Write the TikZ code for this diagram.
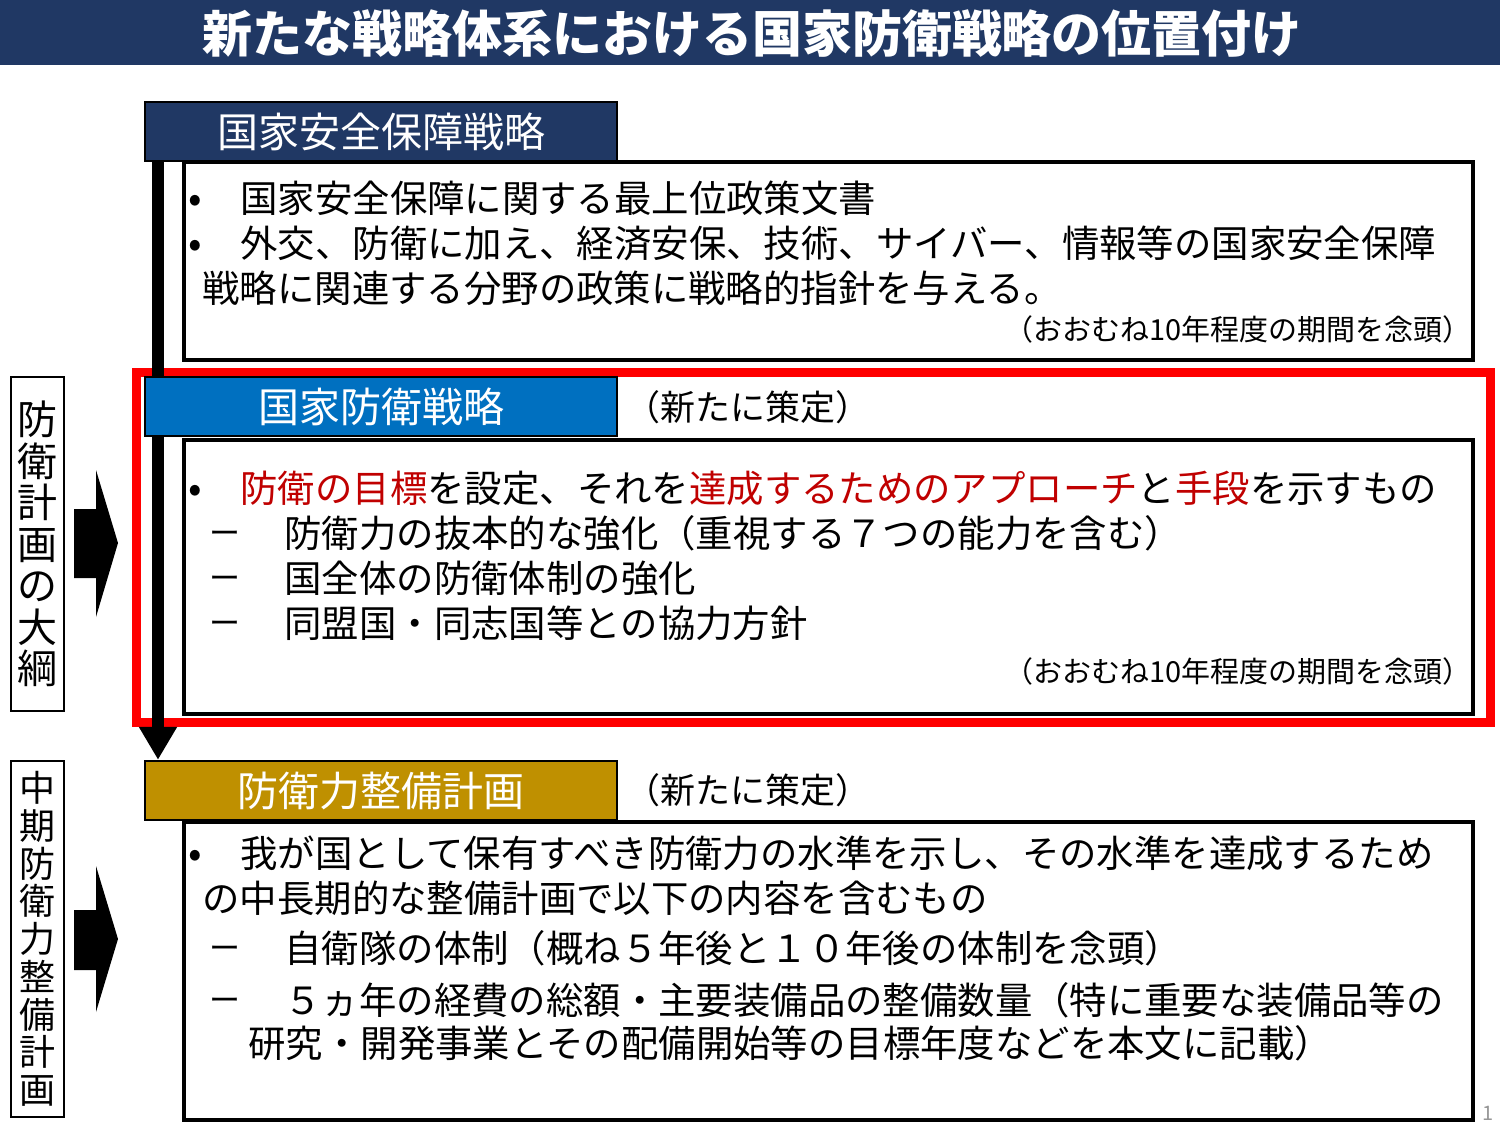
\documentclass[tikz,border=0pt]{standalone}
\usepackage{fontspec}
\setmainfont{Noto Sans CJK JP}
\usetikzlibrary{arrows.meta}
\definecolor{navy}{RGB}{32,56,100}
\definecolor{hblue}{RGB}{0,112,192}
\definecolor{hgold}{RGB}{191,144,0}
\definecolor{redtxt}{RGB}{192,0,0}
\definecolor{pgnum}{RGB}{150,150,150}
\pgfdeclarelayer{front}
\pgfsetlayers{main,front}
\begin{document}
\begin{tikzpicture}[x=0.5pt,y=-0.5pt,
  hdr/.style={draw=black, line width=1.2pt, text=white, minimum width=236pt, minimum height=29.5pt, inner sep=0, font=\fontsize{20.5}{22}\selectfont},
  cbox/.style={draw=black, line width=2pt, fill=white, anchor=north west, inner sep=0, minimum width=644.5pt},
  lbox/.style={draw=black, line width=1pt, minimum width=26.5pt, inner sep=0, align=center},
  body/.style={anchor=west, inner sep=0, font=\fontsize{18.7}{20}\selectfont, text height=0.88em, text depth=0.12em},
  side/.style={anchor=west, inner sep=0, font=\fontsize{17.5}{19}\selectfont, text height=0.88em, text depth=0.12em},
  note/.style={anchor=east, inner sep=0, font=\fontsize{14.5}{16}\selectfont, text height=0.88em, text depth=0.12em},
  bul/.style={inner sep=0, font=\fontsize{20}{22}\selectfont},
  dashmark/.style={inner sep=0, font=\fontsize{15.5}{17}\selectfont},
  bigarrow/.style={fill=black}
]
\useasboundingbox (0,0) rectangle (1500,1125);

% title bar
\fill[navy] (0,0) rectangle (1500,65);
\node[text=white, inner sep=0, font=\fontsize{25}{27}\bfseries\selectfont] (title) at (752,34) {新たな戦略体系における国家防衛戦略の位置付け};

% content boxes
\node[cbox, minimum height=99pt] (c1) at (182,160) {};
\node[cbox, minimum height=137pt] (c2) at (182,438) {};
\node[cbox, minimum height=149pt] (c3) at (182,820) {};

% red frame
\node[draw=red, line width=4.5pt, anchor=north west, minimum width=677pt, minimum height=175pt, inner sep=0] (rf) at (132,368) {};

% headers (front layer)
\begin{pgfonlayer}{front}
\node[hdr, fill=navy] (h1) at (381,131.5) {\raisebox{-1pt}{国家安全保障戦略}};
\node[hdr, fill=hblue] (h2) at (381,406.5) {\raisebox{-1pt}{国家防衛戦略}};
\node[hdr, fill=hgold] (h3) at (381,790.5) {\raisebox{-1pt}{防衛力整備計画}};
\end{pgfonlayer}

% spine arrow
\coordinate (sx) at (158,0);
\draw[line width=6pt, -{Triangle[width=18pt,length=16.5pt]}] (h1.south -| sx) -- (h3.north -| sx);

% side notes
\node[side] (s2) at (625,413) {（新たに策定）};
\node[side] (s3) at (625,796) {（新たに策定）};

% left labels
\node[lbox, minimum height=167pt, font=\fontsize{20}{20.75}\selectfont] (la) at (37.5,544) {防\\衛\\計\\画\\の\\大\\綱};
\node[lbox, minimum height=178pt, font=\fontsize{18}{18.85}\selectfont] (lb) at (37.5,939) {中\\期\\防\\衛\\力\\整\\備\\計\\画};

% big right arrows
\fill[bigarrow] (74,509) -- (96,509) -- (96,470) -- (118,543) -- (96,617) -- (96,578) -- (74,578) -- cycle;
\fill[bigarrow] (74,910) -- (96,910) -- (96,866) -- (118,939) -- (96,1012) -- (96,970) -- (74,970) -- cycle;

% box 1 text
\node[bul] (b11) at (195,204) {•};
\node[bul] (b12) at (195,249) {•};
\node[body] (t11) at (240,205) {国家安全保障に関する最上位政策文書};
\node[body] (t12) at (240,250) {外交、防衛に加え、経済安保、技術、サイバー、情報等の国家安全保障};
\node[body] (t13) at (202,295) {戦略に関連する分野の政策に戦略的指針を与える。};
\node[note] (n1) at (1472,333) {（おおむね10年程度の期間を念頭）};

% box 2 text
\node[bul] (b21) at (195,494) {•};
\node[body] (t21) at (240,495) {\textcolor{redtxt}{防衛の目標}を設定、それを\textcolor{redtxt}{達成するためのアプローチ}と\textcolor{redtxt}{手段}を示すもの};
\node[dashmark] (d22) at (225,538) {ー};
\node[dashmark] (d23) at (225,583) {ー};
\node[dashmark] (d24) at (225,628) {ー};
\node[body] (t22) at (284,540) {防衛力の抜本的な強化（重視する７つの能力を含む）};
\node[body] (t23) at (284,585) {国全体の防衛体制の強化};
\node[body] (t24) at (284,630) {同盟国・同志国等との協力方針};
\node[note] (n2) at (1472,675) {（おおむね10年程度の期間を念頭）};

% box 3 text
\node[bul] (b31) at (195,859) {•};
\node[body] (t31) at (240,860) {我が国として保有すべき防衛力の水準を示し、その水準を達成するため};
\node[body] (t32) at (202,905) {の中長期的な整備計画で以下の内容を含むもの};
\node[dashmark] (d33) at (225,953) {ー};
\node[dashmark] (d34) at (225,1005) {ー};
\node[body] (t33) at (284,955) {自衛隊の体制（概ね５年後と１０年後の体制を念頭）};
\node[body] (t34) at (284,1007) {５ヵ年の経費の総額・主要装備品の整備数量（特に重要な装備品等の};
\node[body] (t35) at (248,1050) {研究・開発事業とその配備開始等の目標年度などを本文に記載）};

% page number
\node[text=pgnum, inner sep=0, font=\fontsize{10}{12}\selectfont] (pg) at (1488,1113) {1};
\end{tikzpicture}
\end{document}
